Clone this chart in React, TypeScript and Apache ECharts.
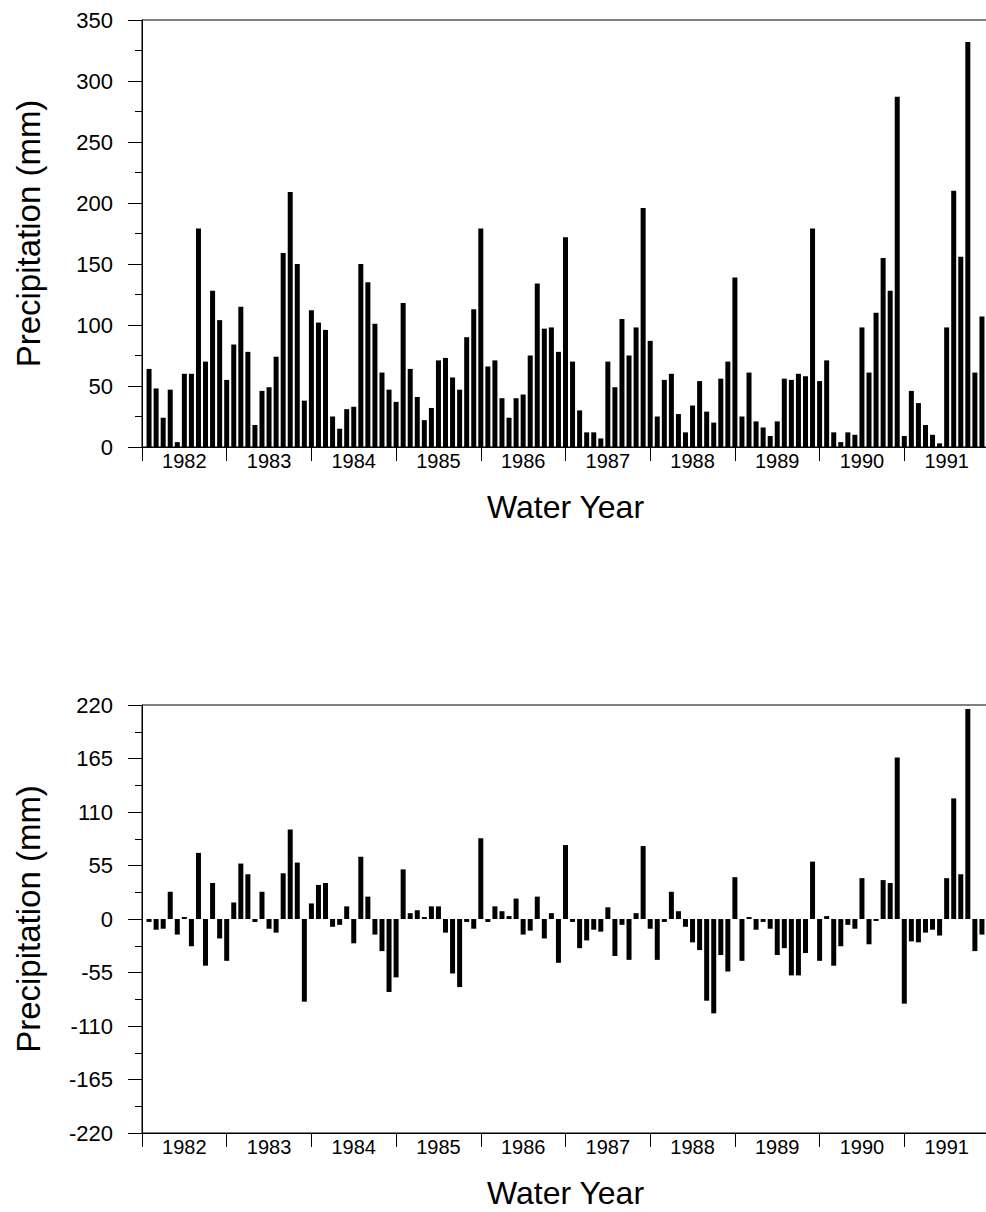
import { useEffect, useRef } from "react";
import * as echarts from "echarts";

// Water years shown on the x axis (12 monthly bars per year)
const years = ["1982", "1983", "1984", "1985", "1986", "1987", "1988", "1989", "1990", "1991"];

// Monthly precipitation (mm)
const precipitation: (number | null)[] = [
  64, 48, 24, 47, 4, 60, 60, 179, 70, 128, 104, 55,
  84, 115, 78, 18, 46, 49, 74, 159, 209, 150, 38, 112,
  102, 96, 25, 15, 31, 33, 150, 135, 101, 61, 47, 37,
  118, 64, 41, 22, 32, 71, 73, 57, 47, 90, 113, 179,
  66, 71, 40, 24, 40, 43, 75, 134, 97, 98, 78, 172,
  70, 30, 12, 12, 7, 70, 49, 105, 75, 98, 196, 87,
  25, 55, 60, 27, 12, 34, 54, 29, 20, 56, 70, 139,
  25, 61, 21, 16, 9, 21, 56, 55, 60, 58, 179, 54,
  71, 12, 4, 12, 10, 98, 61, 110, 155, 128, 287, 9,
  46, 36, 18, 10, 3, 98, 210, 156, 332, 61, 107, null, // last month beyond cropped edge
];

// Monthly departure from the mean (mm)
const departure: (number | null)[] = [
  -3, -11, -10, 28, -16, 2, -28, 68, -48, 37, -20, -43,
  17, 57, 46, -3, 28, -10, -14, 47, 92, 58, -85, 16,
  35, 37, -8, -6, 13, -25, 64, 23, -16, -33, -75, -60,
  51, 6, 9, 2, 13, 13, -14, -56, -70, -3, -10, 83,
  -3, 13, 8, 3, 21, -16, -12, 23, -20, 6, -45, 76,
  -3, -30, -22, -11, -13, 12, -38, -6, -42, 6, 75, -10,
  -42, -3, 28, 8, -8, -24, -32, -84, -97, -37, -54, 43,
  -43, 2, -11, -3, -10, -37, -30, -58, -58, -35, 59, -43,
  3, -48, -28, -6, -10, 42, -26, -2, 40, 37, 166, -87,
  -23, -24, -14, -11, -17, 42, 124, 46, 216, -33, -16, null, // last month beyond cropped edge
];

// Axis scales
const precipAxis = { min: 0, max: 350, interval: 50 };
const departureAxis = { min: -220, max: 220, interval: 55 };

const FONT = "'Liberation Sans', Arial, Helvetica, sans-serif";
const BLACK = "#000";

export default function App() {
  const ref = useRef<HTMLDivElement>(null);

  useEffect(() => {
    if (!ref.current) return;
    const chart = echarts.init(ref.current, null, { renderer: "svg" });

    const months = years.length * 12;
    const yearTicks = [...years.map((_, i) => i * 12), months];
    const yearCentres = years.map((_, i) => i * 12 + 6);

    const makeX = (gridIndex: number) => ({
      type: "value",
      gridIndex,
      min: 0,
      max: months,
      name: "Water Year",
      nameLocation: "middle",
      nameGap: 44,
      nameTextStyle: { fontSize: 32, color: BLACK, fontFamily: FONT },
      axisLine: { show: true, onZero: false, lineStyle: { color: BLACK, width: 1 } },
      axisTick: { show: true, length: 14, lineStyle: { color: BLACK, width: 1 }, customValues: yearTicks },
      axisLabel: {
        show: true,
        customValues: yearCentres,
        formatter: (v: number) => years[Math.round((v - 6) / 12)] ?? "",
        fontSize: 20,
        margin: 4,
        color: BLACK,
        fontFamily: FONT,
      },
      splitLine: { show: false },
    });

    const makeY = (gridIndex: number, scale: { min: number; max: number; interval: number }) => ({
      type: "value",
      gridIndex,
      min: scale.min,
      max: scale.max,
      interval: scale.interval,
      name: "Precipitation (mm)",
      nameLocation: "middle",
      nameGap: 97,
      nameTextStyle: { fontSize: 33, color: BLACK, fontFamily: FONT },
      axisLine: { show: true, lineStyle: { color: BLACK, width: 1 } },
      axisTick: { show: true, length: 14, lineStyle: { color: BLACK, width: 1 } },
      minorTick: { show: true, splitNumber: 2, length: 7, lineStyle: { color: BLACK, width: 1 } },
      axisLabel: { fontSize: 22, margin: 29, color: BLACK, fontFamily: FONT },
      splitLine: { show: false },
      minorSplitLine: { show: false },
    });

    const gridBase = {
      left: 142,
      width: 847,
      show: true,
      borderColor: BLACK,
      borderWidth: 1,
      backgroundColor: "transparent",
      containLabel: false,
      outerBoundsMode: "none",
    };

    chart.setOption({
      animation: false,
      backgroundColor: "#fff",
      textStyle: { fontFamily: FONT, color: BLACK },
      grid: [
        { ...gridBase, top: 20, height: 427 },
        { ...gridBase, top: 705, height: 428 },
      ],
      xAxis: [makeX(0), makeX(1)],
      yAxis: [makeY(0, precipAxis), makeY(1, departureAxis)],
      series: [
        {
          type: "bar",
          xAxisIndex: 0,
          yAxisIndex: 0,
          barWidth: 5,
          silent: true,
          itemStyle: { color: BLACK },
          data: precipitation.map((v, i) => [i + 1, v]),
        },
        {
          type: "bar",
          xAxisIndex: 1,
          yAxisIndex: 1,
          barWidth: 5,
          silent: true,
          itemStyle: { color: BLACK },
          data: departure.map((v, i) => [i + 1, v]),
        },
      ],
    });

    return () => chart.dispose();
  }, []);

  return (
    <div
      ref={ref}
      style={{ position: "absolute", left: 0, top: 0, width: 986, height: 1212, background: "#fff" }}
    />
  );
}
